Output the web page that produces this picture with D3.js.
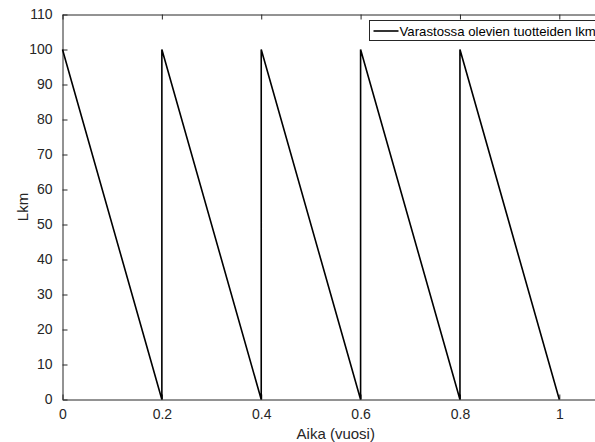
<!DOCTYPE html>
<html>
<head>
<meta charset="utf-8">
<script src="https://cdn.jsdelivr.net/npm/d3@7"></script>
<style>
  body { margin: 0; background: #fff; }
  svg { display: block; font-family: "Liberation Sans", Arial, sans-serif; }
</style>
</head>
<body>
<div id="chart"></div>
<script>
// data: stock level (kpl) over time (years)
var timeValues = [0, 0.2, 0.2, 0.4, 0.4, 0.6, 0.6, 0.8, 0.8, 1.0];
var stockValues = [100, 0, 100, 0, 100, 0, 100, 0, 100, 0];
var xTicks = [0, 0.2, 0.4, 0.6, 0.8, 1];
var yTicks = [0, 10, 20, 30, 40, 50, 60, 70, 80, 90, 100, 110];
var legendLabel = "Varastossa olevien tuotteiden lkm";

var svgWidth = 595;
var svgHeight = 442;

var margin = { top: 14.5, left: 62.5, bottom: 42.5 };
var plotWidth = 546.5;   // axes run past the right edge of the picture
var plotHeight = svgHeight - margin.top - margin.bottom;

var svg = d3.select("#chart")
    .append("svg")
    .attr("width", svgWidth)
    .attr("height", svgHeight);

var g = svg.append("g")
    .attr("transform", "translate(" + margin.left + "," + margin.top + ")");

var x = d3.scaleLinear().domain([0, 1.1]).range([0, plotWidth]);
var y = d3.scaleLinear().domain([0, 110]).range([plotHeight, 0]);

var axisColor = "#262626";

// bottom axis with inward ticks
var bottomAxis = d3.axisBottom(x).tickValues(xTicks).tickSizeInner(-5).tickSizeOuter(0)
    .tickPadding(10).tickFormat(d3.format("~g"));
var leftAxis = d3.axisLeft(y).tickValues(yTicks).tickSizeInner(-5).tickSizeOuter(0)
    .tickPadding(10);
var topAxis = d3.axisTop(x).tickValues(xTicks).tickSizeInner(-5).tickSizeOuter(0)
    .tickFormat("");

function styleAxis(sel) {
    sel.selectAll("path").attr("stroke", axisColor).attr("stroke-width", 1);
    sel.selectAll("line").attr("stroke", axisColor).attr("stroke-width", 1);
    sel.selectAll("text").attr("fill", axisColor).style("font-size", "14px");
}

g.append("g")
    .attr("transform", "translate(0," + plotHeight + ")")
    .call(bottomAxis)
    .call(styleAxis);

g.append("g")
    .call(leftAxis)
    .call(styleAxis);

g.append("g")
    .call(topAxis)
    .call(styleAxis);

// the sawtooth line
var line = d3.line()
    .x(function (d, i) { return x(timeValues[i]); })
    .y(function (d) { return y(d); });

g.append("path")
    .datum(stockValues)
    .attr("fill", "none")
    .attr("stroke", "#000")
    .attr("stroke-width", 1.6)
    .attr("stroke-linejoin", "miter")
    .attr("d", line);

// axis labels
g.append("text")
    .attr("x", x(0.55))
    .attr("y", plotHeight + 39)
    .attr("text-anchor", "middle")
    .attr("fill", axisColor)
    .style("font-size", "15px")
    .text("Aika (vuosi)");

g.append("text")
    .attr("transform", "translate(" + (-34.5) + "," + (plotHeight / 2) + ") rotate(-90)")
    .attr("text-anchor", "middle")
    .attr("fill", axisColor)
    .style("font-size", "15px")
    .text("Lkm");

// legend (runs past the right edge, as in the source figure)
var legend = svg.append("g").attr("transform", "translate(369.5,20.5)");
legend.append("rect")
    .attr("width", 260)
    .attr("height", 20)
    .attr("fill", "#fff")
    .attr("stroke", axisColor)
    .attr("stroke-width", 1);
legend.append("line")
    .attr("x1", 4).attr("x2", 29)
    .attr("y1", 10.5).attr("y2", 10.5)
    .attr("stroke", "#000")
    .attr("stroke-width", 1.6);
legend.append("text")
    .attr("x", 30)
    .attr("y", 15.5)
    .attr("fill", "#000")
    .style("font-size", "13.2px")
    .text(legendLabel);
</script>
</body>
</html>
